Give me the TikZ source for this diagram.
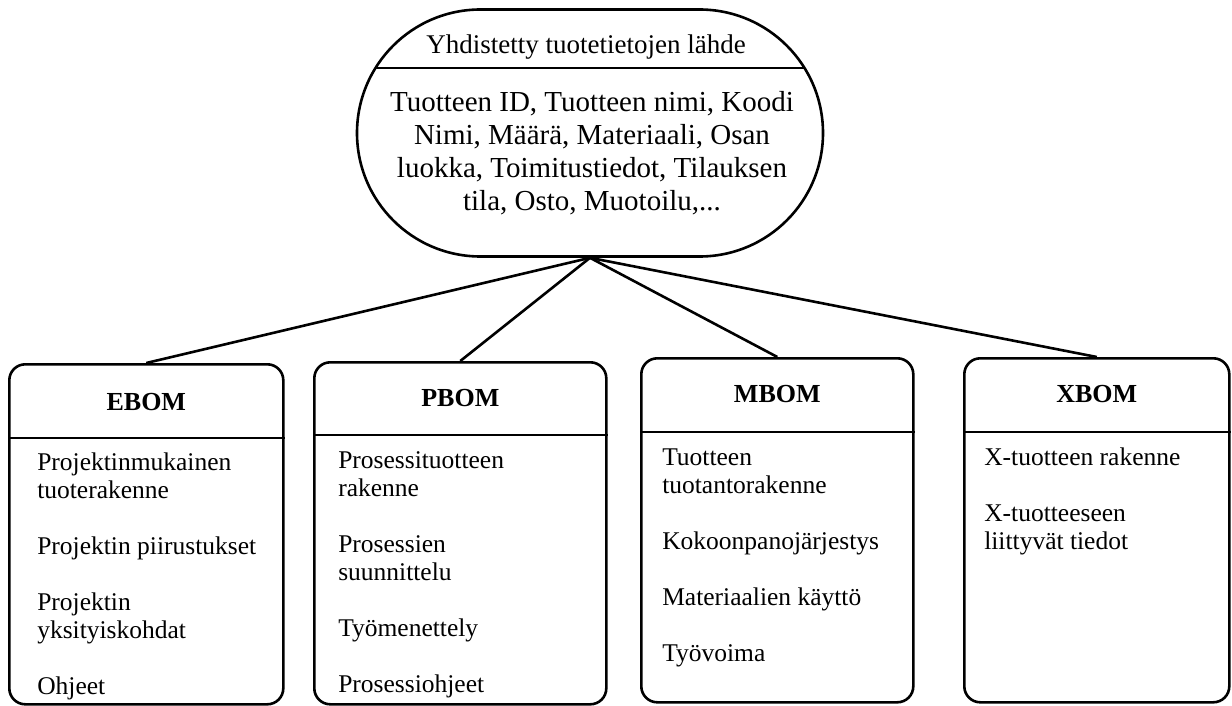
\documentclass[tikz,border=0pt]{standalone}
\usepackage{fontspec}
\setmainfont{Liberation Serif}
\usetikzlibrary{shapes.misc,calc}

\begin{document}
\begin{tikzpicture}[x=1pt,y=-1pt,
  line width=2.6pt, line join=round,
  srcshape/.style={draw, shape=rounded rectangle, minimum width=466pt,
    minimum height=247pt, inner sep=0pt},
  bombox/.style={draw, rectangle, rounded corners=16pt, anchor=north west, inner sep=0pt},
  bomhead/.style={font=\fontsize{26}{28}\selectfont\bfseries, anchor=base, inner sep=0pt},
  bomitems/.style={font=\fontsize{25.5}{28}\selectfont, anchor=base west, align=left, inner sep=0pt},
  link/.style={line width=2.6pt}
]
\useasboundingbox (0,0) rectangle (1232,706);

% combined product data source (base anchors sit on the last text line)
\node[srcshape] (src) at (590,133) {};
\draw ($(src.center)+(-214.5,-65)$) -- ($(src.center)+(214.5,-65)$);
\node[font=\fontsize{27}{30}\selectfont, anchor=base, inner sep=0pt] (srctitle) at (586,53.5)
  {Yhdistetty tuotetietojen lähde};
\node[font=\fontsize{29}{32.7}\selectfont, anchor=base, align=center, inner sep=0pt] (srcfields) at (592,210)
  {Tuotteen ID, Tuotteen nimi, Koodi\\Nimi, Määrä, Materiaali, Osan\\luokka, Toimitustiedot, Tilauksen\\tila, Osto, Muotoilu,...};

% BOM views
\node[bombox, minimum width=274pt, minimum height=340pt] (ebom) at (8,363) {};
\node[bombox, minimum width=292pt, minimum height=342pt] (pbom) at (313,361) {};
\node[bombox, minimum width=272pt, minimum height=344pt] (mbom) at (640,357) {};
\node[bombox, minimum width=265pt, minimum height=344pt] (xbom) at (963,357) {};

\draw ($(ebom.north west)+(0,75)$) -- ($(ebom.north east)+(0,75)$);
\draw ($(pbom.north west)+(0,74)$) -- ($(pbom.north east)+(0,74)$);
\draw ($(mbom.north west)+(0,75)$) -- ($(mbom.north east)+(0,75)$);
\draw ($(xbom.north west)+(0,75)$) -- ($(xbom.north east)+(0,75)$);

\node[bomhead] (ebomh) at ($(ebom.north)+(0,47)$) {EBOM};
\node[bomhead] (pbomh) at ($(pbom.north)+(0,45)$) {PBOM};
\node[bomhead] (mbomh) at ($(mbom.north)+(0,45.5)$) {MBOM};
\node[bomhead] (xbomh) at ($(xbom.north)+(0,45.5)$) {XBOM};

\node[bomitems] (ebomi) at ($(ebom.north west)+(28,331)$)
  {Projektinmukainen\\tuoterakenne\\[28pt]Projektin piirustukset\\[28pt]Projektin\\yksityiskohdat\\[28pt]Ohjeet};
\node[bomitems] (pbomi) at ($(pbom.north west)+(24,331)$)
  {Prosessituotteen\\rakenne\\[28pt]Prosessien\\suunnittelu\\[28pt]Työmenettely\\[28pt]Prosessiohjeet};
\node[bomitems] (mbomi) at ($(mbom.north west)+(21,304)$)
  {Tuotteen\\tuotantorakenne\\[28pt]Kokoonpanojärjestys\\[28pt]Materiaalien käyttö\\[28pt]Työvoima};
\node[bomitems] (xbomi) at ($(xbom.north west)+(20,192)$)
  {X-tuotteen rakenne\\[28pt]X-tuotteeseen\\liittyvät tiedot};

% links from the source to each view
\draw[link] (src.south) -- (ebom.north);
\draw[link] (src.south) -- (pbom.north);
\draw[link] (src.south) -- (mbom.north);
\draw[link] (src.south) -- (xbom.north);
\end{tikzpicture}
\end{document}
